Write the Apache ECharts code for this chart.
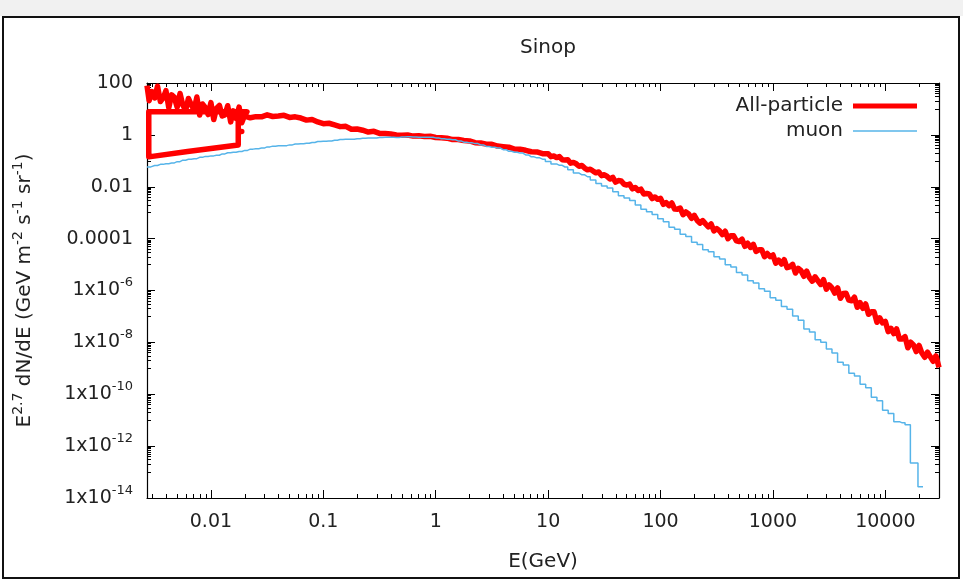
<!DOCTYPE html>
<html>
<head>
<meta charset="utf-8">
<script src="https://cdn.jsdelivr.net/npm/echarts@6/dist/echarts.min.js"></script>
<style>html,body{margin:0;padding:0;background:#fff}#c{width:963px;height:580px}</style>
</head>
<body>
<div id="c"></div>
<script>
const FONT = 'DejaVu Sans';
const TXT = '#222';
const titleText = 'Sinop';
const xName = 'E(GeV)';
const seriesNames = ['All-particle', 'muon'];
const xMin = 0.0027, xMax = 30000;
const yMin = 1e-14, yMax = 100;

const xMajorTicks = [0.01, 0.1, 1, 10, 100, 1000, 10000];
const xTickLabels = ['0.01', '0.1', '1', '10', '100', '1000', '10000'];
const xMinorBases = [0.001, 0.01, 0.1, 1, 10, 100, 1000, 10000];
const xMinorSteps = [2, 3, 4, 5, 6, 7, 8, 9];
const yMajorTicks = [100, 1, 0.01, 1e-4, 1e-6, 1e-8, 1e-10, 1e-12, 1e-14];
const yTickLabels = ['100', '1', '0.01', '0.0001', '1x10^-6', '1x10^-8', '1x10^-10', '1x10^-12', '1x10^-14'];
const yMinorBases = [10, 0.1, 1e-3, 1e-5, 1e-7, 1e-9, 1e-11, 1e-13];
const yMinorSteps = [1, 2, 3, 4, 5, 6, 7, 8, 9];

// All-particle: noisy low-energy part, the return loop, then the main spectrum
const redBlob = [
  [0.0027, 80.0], [0.00282, 20.7], [0.00299, 46.5], [0.00316, 26.4], [0.00335, 75.3],
  [0.00355, 19.2], [0.00376, 26.6], [0.00398, 50.8], [0.00422, 11.1], [0.00447, 35.0],
  [0.00473, 27.9], [0.00501, 11.6], [0.00531, 39.5], [0.00562, 14.1], [0.00596, 8.79],
  [0.00631, 25.4], [0.00668, 14.7], [0.00708, 9.16], [0.0075, 28.7], [0.00794, 5.81],
  [0.00841, 15.5], [0.00891, 11.4], [0.00944, 6.07], [0.01, 17.5], [0.0106, 3.89],
  [0.0112, 10.5], [0.0119, 13.7], [0.0126, 5.33], [0.0133, 5.86], [0.0141, 13.3],
  [0.015, 3.17], [0.0158, 8.45], [0.0168, 4.30], [0.0178, 11.8], [0.0188, 2.91],
  [0.02, 5.81], [0.0209, 7.8]
];
const redLoop = [
  [0.0028, 7.8], [0.0028, 0.142], [0.0062, 0.23], [0.0175, 0.41],
  [0.0175, 1.35], [0.0188, 1.35], [0.0175, 1.35], [0.0175, 4.9]
];
const redMain = [
  [0.01995, 5.27], [0.02239, 4.55], [0.02512, 5.04], [0.02818, 4.98], [0.03162, 5.92],
  [0.03548, 5.11], [0.03981, 5.35], [0.04467, 5.68], [0.05012, 4.71], [0.05623, 4.95],
  [0.0631, 4.45], [0.07079, 3.71], [0.07943, 3.94], [0.08913, 3.16], [0.1, 2.70],
  [0.1122, 2.81], [0.1259, 2.43], [0.1413, 2.08], [0.1585, 2.13], [0.1778, 1.64],
  [0.1995, 1.69], [0.2239, 1.51], [0.2512, 1.29], [0.2818, 1.37], [0.3162, 1.14],
  [0.3548, 1.13], [0.3981, 1.08], [0.4467, 0.995], [0.5012, 0.973], [0.5623, 0.995],
  [0.631, 0.898], [0.7079, 0.923], [0.7943, 0.863], [0.8913, 0.883], [1, 0.789],
  [1.122, 0.776], [1.259, 0.746], [1.413, 0.658], [1.585, 0.665], [1.778, 0.605],
  [1.995, 0.585], [2.239, 0.502], [2.512, 0.488], [2.818, 0.438], [3.162, 0.431],
  [3.548, 0.372], [3.981, 0.352], [4.467, 0.336], [5.012, 0.283], [5.623, 0.279],
  [6.31, 0.254], [7.079, 0.223], [7.943, 0.220], [8.913, 0.188],
  [10, 0.187], [10.59, 0.1449], [11.22, 0.153], [11.89, 0.133], [12.59, 0.1455],
  [13.34, 0.1107], [14.13, 0.1074], [14.96, 0.109], [15.85, 0.0811], [16.79, 0.0869],
  [17.78, 0.0766], [18.84, 0.0614], [19.95, 0.0665], [21.13, 0.0524], [22.39, 0.0448],
  [23.71, 0.0475], [25.12, 0.0402], [26.61, 0.0344], [28.18, 0.0370], [29.85, 0.0269],
  [31.62, 0.0290], [33.5, 0.0249], [35.48, 0.0198], [37.58, 0.0231], [39.81, 0.0150],
  [42.17, 0.0173], [44.67, 0.0168], [47.32, 0.01245], [50.12, 0.0117], [53.09, 0.01274],
  [56.23, 0.00828], [59.57, 0.00935], [63.1, 0.00718], [66.83, 0.00811], [70.79, 0.00527],
  [74.99, 0.00552], [79.43, 0.00528], [84.14, 0.00351], [89.13, 0.00405], [94.41, 0.00329],
  [100, 0.00356], [105.9, 0.0021], [112.2, 0.00246], [118.9, 0.00187], [125.9, 0.00236],
  [133.4, 0.00138], [141.3, 0.00137], [149.6, 0.00151], [158.5, 8.36e-4], [167.9, 1.07e-3],
  [177.8, 8.89e-4], [188.4, 6.04e-4], [199.5, 7.93e-4], [211.3, 5.12e-4], [223.9, 3.95e-4],
  [237.1, 4.93e-4], [251.2, 3.71e-4], [266.1, 2.86e-4], [281.8, 3.66e-4], [298.5, 1.98e-4],
  [316.2, 2.45e-4], [335, 1.99e-4], [354.8, 1.43e-4], [375.8, 1.92e-4], [398.1, 9.91e-5],
  [421.7, 1.29e-4], [446.7, 1.29e-4], [473.2, 8.22e-5], [501.2, 7.73e-5], [530.9, 9.51e-5],
  [562.3, 5.06e-5], [595.7, 6.61e-5], [631, 4.60e-5], [668.3, 6.01e-5], [707.9, 3.20e-5],
  [749.9, 3.71e-5], [794.3, 3.70e-5], [841.4, 2.00e-5], [891.3, 2.67e-5], [944.1, 2.01e-5],
  [1000, 2.34e-5], [1059, 1.14e-5], [1122, 1.49e-5], [1189, 1.05e-5], [1259, 1.54e-5],
  [1334, 7.64e-6], [1413, 8.20e-6], [1496, 1.02e-5], [1585, 4.72e-6], [1679, 7.18e-6],
  [1778, 5.83e-6], [1884, 3.54e-6], [1995, 5.58e-6], [2113, 3.14e-6], [2239, 2.29e-6],
  [2371, 3.36e-6], [2512, 2.36e-6], [2661, 1.71e-6], [2818, 2.61e-6], [2985, 1.13e-6],
  [3162, 1.64e-6], [3350, 1.25e-6], [3548, 7.96e-7], [3758, 1.27e-6], [3981, 5.01e-7],
  [4217, 7.66e-7], [4467, 7.89e-7], [4732, 4.23e-7], [5012, 3.99e-7], [5309, 5.52e-7],
  [5623, 2.25e-7], [5957, 3.40e-7], [6310, 2.05e-7], [6683, 3.03e-7], [7079, 1.21e-7],
  [7499, 1.50e-7], [7943, 1.50e-7], [8414, 5.94e-8], [8913, 8.79e-8], [9441, 5.65e-8],
  [10000, 6.43e-8], [10590, 2.61e-8], [11220, 3.46e-8], [11890, 2.18e-8], [12590, 3.30e-8],
  [13340, 1.34e-8], [14130, 1.36e-8], [14960, 1.66e-8], [15850, 6.18e-9], [16790, 1.02e-8],
  [17780, 8.0e-9], [18840, 4.42e-9], [19950, 7.62e-9], [21130, 3.86e-9], [22390, 2.65e-9],
  [23710, 4.20e-9], [25120, 2.77e-9], [26610, 1.87e-9], [28180, 3.03e-9], [30000, 1.09e-9]
];
const muon = [
  [0.0027, 0.0583], [0.00316, 0.0656], [0.00355, 0.0730], [0.00398, 0.0776], [0.00447, 0.0828],
  [0.00501, 0.0927], [0.00562, 0.106], [0.00631, 0.114], [0.00708, 0.121], [0.00794, 0.136],
  [0.00891, 0.148], [0.01, 0.155], [0.0112, 0.164], [0.0126, 0.185], [0.0141, 0.204],
  [0.0158, 0.215], [0.0178, 0.228], [0.02, 0.252], [0.0224, 0.282], [0.0251, 0.294],
  [0.0282, 0.310], [0.0316, 0.344], [0.0355, 0.368], [0.0398, 0.377], [0.0447, 0.385],
  [0.0501, 0.411], [0.0562, 0.444], [0.0631, 0.458], [0.0708, 0.472], [0.0794, 0.509],
  [0.0891, 0.552], [0.1, 0.571], [0.112, 0.583], [0.126, 0.625], [0.141, 0.665],
  [0.158, 0.676], [0.178, 0.679], [0.2, 0.714], [0.224, 0.746], [0.251, 0.753],
  [0.282, 0.755], [0.316, 0.787], [0.355, 0.811], [0.398, 0.807], [0.447, 0.800],
  [0.501, 0.822], [0.562, 0.841], [0.631, 0.830], [0.708, 0.807], [0.794, 0.815],
  [0.891, 0.807], [1, 0.766], [1.122, 0.706], [1.26, 0.682], [1.413, 0.647],
  [1.58, 0.587], [1.778, 0.525], [2.0, 0.492], [2.239, 0.460], [2.51, 0.411],
  [2.818, 0.359], [3.16, 0.336], [3.548, 0.310], [3.98, 0.269], [4.467, 0.232],
  [5.01, 0.215], [5.623, 0.198], [6.31, 0.169], [7.079, 0.142], [7.94, 0.130],
  [8.913, 0.116], [10, 0.0951], [11.22, 0.0760], [12.6, 0.0667], [14.13, 0.0578],
  [15.8, 0.0448], [17.78, 0.0338], [20, 0.0287], [22.39, 0.0243], [25.1, 0.0184],
  [28.18, 0.0132], [31.6, 0.0108], [35.48, 0.00887], [39.8, 0.00635], [44.67, 0.00454],
  [50.1, 0.00372], [56.23, 0.00292], [63.1, 0.0020], [70.79, 0.00137], [79.4, 0.00108],
  [89.13, 8.45e-4], [100, 5.78e-4], [112, 4.44e-4], [126, 2.77e-4], [141, 2.28e-4],
  [158, 1.46e-4], [178, 1.20e-4], [200, 7.3e-5], [224, 6.0e-5], [251, 3.76e-5],
  [282, 3.09e-5], [316, 1.98e-5], [355, 1.63e-5], [398, 9.9e-6], [447, 8.0e-6],
  [501, 4.9e-6], [562, 4.0e-6], [631, 2.4e-6], [708, 1.93e-6], [794, 1.18e-6],
  [891, 9.3e-7], [1000, 5.3e-7], [1122, 4.2e-7], [1259, 2.39e-7], [1413, 1.88e-7],
  [1585, 1.05e-7], [1778, 7.2e-8], [1995, 3.3e-8], [2239, 2.5e-8], [2512, 1.25e-8],
  [2818, 1.02e-8], [3162, 5.5e-9], [3548, 3.9e-9], [3981, 1.73e-9], [4467, 1.33e-9],
  [5012, 6.5e-10], [5623, 5.1e-10], [6310, 2.45e-10], [7079, 1.78e-10], [7943, 7.7e-11],
  [8913, 5.6e-11], [10000, 2.44e-11], [11220, 1.82e-11], [12590, 8.8e-12], [14130, 7.9e-12],
  [15850, 6.6e-12], [17580, 2.26e-13], [21630, 2.69e-14]
];

const xMinorTicks = [];
xMinorBases.forEach(b => xMinorSteps.forEach(k => { const v = +(b * k).toPrecision(6); if (v >= xMin && v <= xMax) xMinorTicks.push(v); }));
const yMinorTicks = [];
yMinorBases.forEach(b => yMinorSteps.forEach(k => { const v = +(b * k).toPrecision(6); if (v >= yMin && v <= yMax) yMinorTicks.push(v); }));

function findIdx(arr, v) { return arr.findIndex(t => Math.abs(v / t - 1) < 1e-6); }
function xFmt(v) { const i = findIdx(xMajorTicks, v); return i < 0 ? '' : xTickLabels[i]; }
function yFmt(v) {
  const i = findIdx(yMajorTicks, v); if (i < 0) return '';
  const s = yTickLabels[i]; const p = s.indexOf('^');
  return p < 0 ? '{b|' + s + '}' : '{b|' + s.slice(0, p) + '}{s|' + s.slice(p + 1) + '}';
}
const rich = {
  b: { fontSize: 19, lineHeight: 28, color: TXT, fontFamily: FONT },
  s: { fontSize: 13, lineHeight: 12, verticalAlign: 'top', color: TXT, fontFamily: FONT }
};
const richName = {
  b: { fontSize: 20, lineHeight: 28, color: TXT, fontFamily: FONT },
  s: { fontSize: 14, lineHeight: 12, verticalAlign: 'top', color: TXT, fontFamily: FONT }
};
const lineBlack = { color: '#000', width: 1.2 };

function xAx(pos, major, showLine, showLabel) {
  const ticks = major ? xMajorTicks : xMinorTicks;
  const a = {
    type: 'log', logBase: 10, min: xMin, max: xMax, position: pos, gridIndex: 0,
    axisLine: { show: showLine, onZero: false, lineStyle: lineBlack },
    axisTick: { show: true, inside: true, length: major ? 8 : 4, customValues: ticks, lineStyle: { color: '#000', width: 1 } },
    axisLabel: { show: showLabel, customValues: xMajorTicks, formatter: xFmt, margin: 15, fontSize: 19, color: TXT, fontFamily: FONT },
    splitLine: { show: false }, minorTick: { show: false }, axisPointer: { show: false }
  };
  if (showLabel) {
    a.name = xName; a.nameLocation = 'middle'; a.nameGap = 54;
    a.nameTextStyle = { fontSize: 20, color: TXT, fontFamily: FONT };
  }
  return a;
}
function yAx(pos, major, showLine, showLabel) {
  const ticks = major ? yMajorTicks : yMinorTicks;
  const a = {
    type: 'log', logBase: 10, min: yMin, max: yMax, position: pos, gridIndex: 0,
    axisLine: { show: showLine, onZero: false, lineStyle: lineBlack },
    axisTick: { show: true, inside: true, length: major ? 8 : 4, customValues: ticks, lineStyle: { color: '#000', width: 1 } },
    axisLabel: { show: showLabel, customValues: yMajorTicks, formatter: yFmt, margin: 14, rich: rich },
    splitLine: { show: false }, minorTick: { show: false }, axisPointer: { show: false }
  };
  if (showLabel) {
    a.name = '{b|E}{s|2.7}{b| dN/dE (GeV m}{s|-2}{b| s}{s|-1}{b| sr}{s|-1}{b|)}';
    a.nameLocation = 'middle'; a.nameRotate = 90; a.nameGap = 108;
    a.nameTextStyle = { fontSize: 20, color: TXT, fontFamily: FONT, rich: richName };
  }
  return a;
}

const chart = echarts.init(document.getElementById('c'), null, { renderer: 'canvas' });
chart.setOption({
  animation: false,
  backgroundColor: '#fff',
  title: { text: titleText, left: 543, top: 33, textAlign: 'center',
    textStyle: { fontSize: 20, fontWeight: 'normal', color: TXT, fontFamily: FONT } },
  grid: { left: 147, right: 24, top: 83, bottom: 82, containLabel: false, outerBoundsMode: 'none' },
  legend: {
    orient: 'vertical', right: 41, top: 91, align: 'right', selectedMode: false,
    itemWidth: 64, itemHeight: 14, itemGap: 5,
    itemStyle: { borderWidth: 0 },
    textStyle: { fontSize: 20, color: TXT, fontFamily: FONT, lineHeight: 20, padding: [0, 5, 0, 0] },
    data: [
      { name: seriesNames[0], icon: 'path://M0,0H64V5H0Z' },
      { name: seriesNames[1], icon: 'path://M0,0H64V1.5H0Z' }
    ]
  },
  xAxis: [xAx('bottom', true, true, true), xAx('bottom', false, false, false), xAx('top', true, true, false), xAx('top', false, false, false)],
  yAxis: [yAx('left', true, true, true), yAx('left', false, false, false), yAx('right', true, true, false), yAx('right', false, false, false)],
  series: [
    { name: seriesNames[0], type: 'line', xAxisIndex: 0, yAxisIndex: 0,
      data: redBlob.concat(redLoop, redMain), symbol: 'none', showSymbol: false, clip: false,
      lineStyle: { color: '#ff0000', width: 5.5, join: 'round' }, itemStyle: { color: '#ff0000' }, z: 2 },
    { name: seriesNames[1], type: 'line', xAxisIndex: 0, yAxisIndex: 0,
      data: muon, step: 'middle', symbol: 'none', showSymbol: false,
      lineStyle: { color: '#56b4e9', width: 1.5 }, itemStyle: { color: '#56b4e9' }, z: 3 }
  ],
  graphic: [
    { type: 'rect', silent: true, z: -1, shape: { x: 0, y: 0, width: 963, height: 16 },
      style: { fill: '#f1f1f1' } },
    { type: 'rect', silent: true, shape: { x: 3, y: 17, width: 956, height: 561 },
      style: { fill: 'none', stroke: '#111', lineWidth: 2 } }
  ]
});
</script>
</body>
</html>
